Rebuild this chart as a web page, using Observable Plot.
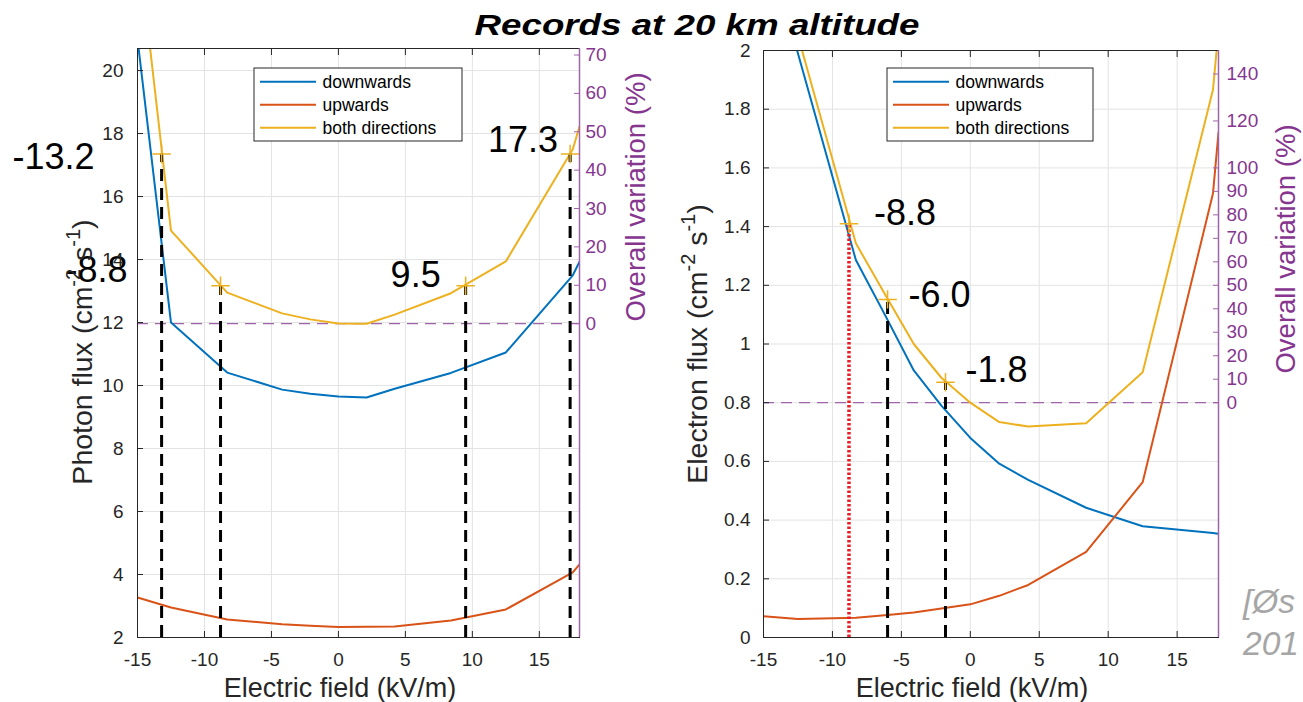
<!DOCTYPE html>
<html><head><meta charset="utf-8">
<script src="https://cdn.jsdelivr.net/npm/d3@7"></script>
<script src="https://cdn.jsdelivr.net/npm/@observablehq/plot@0.6"></script>
<style>
html,body{margin:0;padding:0;background:#fff;}
#wrap{position:relative;width:1303px;height:702px;overflow:hidden;background:#fff;}
#left,#right,#overlay{position:absolute;top:0;}
#left{left:0}#right{left:660px}#overlay{left:0;pointer-events:none}
</style></head><body>
<div id="wrap"><div id="left"></div><div id="right"></div><svg id="overlay" width="1303" height="702"></svg></div>
<script>
// ---------- data ----------
const title = "Records at 20 km altitude";
const seriesNames = ["downwards", "upwards", "both directions"];
const seriesColors = ["#0072BD", "#D95319", "#EDB120"];
const xTicks = [-15, -10, -5, 0, 5, 10, 15];

// left panel: photon flux
const fieldL = [-15, -12.5, -8.3, -4.2, -2.1, 0, 2.1, 4.2, 8.4, 12.5, 17.5, 18];
const downL  = [21.0, 12.0, 10.41, 9.87, 9.74, 9.65, 9.62, 9.9, 10.40, 11.05, 13.5, 13.93];
const upL    = [3.27, 2.95, 2.57, 2.42, 2.37, 2.33, 2.34, 2.35, 2.54, 2.89, 4.07, 4.32];
const bothL  = [24.2, 14.92, 12.95, 12.29, 12.1, 11.97, 11.96, 12.25, 12.93, 13.94, 17.5, 18.22];
const yTicksL = [2, 4, 6, 8, 10, 12, 14, 16, 18, 20];
const pctTicksL = [0, 10, 20, 30, 40, 50, 60, 70];
const markFieldL = [-13.2, -8.8, 9.5, 17.3];
const markFluxL  = [17.35, 13.17, 13.17, 17.35];

// right panel: electron flux
const fieldR = [-15, -12.5, -8.3, -6.2, -4.1, -2.1, 0, 2.1, 4.2, 8.4, 12.5, 17.6, 18];
const downR  = [2.4, 1.99, 1.286, 1.10, 0.91, 0.79, 0.68, 0.592, 0.537, 0.442, 0.379, 0.356, 0.353];
const upR    = [0.072, 0.063, 0.067, 0.076, 0.085, 0.099, 0.113, 0.142, 0.179, 0.292, 0.529, 1.513, 1.72];
const bothR  = [2.47, 2.05, 1.343, 1.17, 1.0, 0.885, 0.80, 0.734, 0.719, 0.730, 0.904, 1.866, 2.07];
const yTicksR = [0, 0.2, 0.4, 0.6, 0.8, 1, 1.2, 1.4, 1.6, 1.8, 2];
const pctTicksR = [0, 10, 20, 30, 40, 50, 60, 70, 80, 90, 100, 120, 140];
const markFieldR = [-8.8, -6.0, -1.8];
const markFluxR  = [1.41, 1.152, 0.87];

// ---------- drawing ----------
const FONT = "'Liberation Sans', Arial, Helvetica, sans-serif";
const PURPLE = "#86368f";
const PURPLE_LINE = "#a064aa";
const AXIS = "#262626";
const GRID = "#e3e3e3";
const TICKFS = 19;

function panel(cfg) {
  const rows = cfg.field.map((f, i) => ({field: f, down: cfg.down[i], up: cfg.up[i], both: cfg.both[i]}));
  const [y0, y1] = cfg.yDomain, [p0, p1] = cfg.pctDomain;
  const toFlux = p => y0 + (p - p0) / (p1 - p0) * (y1 - y0);
  const toPct = f => p0 + (f - y0) / (y1 - y0) * (p1 - p0);
  const marks = cfg.markField.map((x, i) => ({x, y: cfg.markFlux[i], label: x.toFixed(1), i}));
  const dashed = marks.filter(d => !(cfg.redFirst && d.i === 0));
  const red = cfg.redFirst ? marks.filter(d => d.i === 0) : [];
  const keys = ["down", "up", "both"];
  return Plot.plot({
    width: cfg.width, height: 702,
    marginTop: cfg.mt, marginBottom: 65, marginLeft: cfg.ml, marginRight: cfg.mr,
    x: {domain: cfg.xDomain}, y: {domain: cfg.yDomain},
    style: {fontFamily: FONT, fontSize: TICKFS + "px", color: AXIS, background: "transparent", overflow: "visible"},
    marks: [
      Plot.gridX(xTicks, {stroke: GRID, strokeOpacity: 1}),
      Plot.gridY(cfg.yTicks, {stroke: GRID, strokeOpacity: 1}),
      Plot.ruleY([toFlux(0)], {stroke: PURPLE_LINE, strokeWidth: 1.3, strokeDasharray: "11,7"}),
      ...keys.map((k, i) => Plot.line(rows, {x: "field", y: k, stroke: seriesColors[i], strokeWidth: 2, clip: true})),
      Plot.ruleX(dashed, {x: "x", y1: () => y0, y2: "y", stroke: "black", strokeWidth: 3, strokeDasharray: "12,7"}),
      Plot.ruleX(red, {x: "x", y1: () => y0, y2: "y", stroke: "#ec1c24", strokeWidth: 3.5, strokeDasharray: "2.5,2"}),
      Plot.dot(marks, {x: "x", y: "y", symbol: "plus", r: 6, stroke: seriesColors[2], strokeWidth: 1.5}),
      ...cfg.annot.map((s, i) => Plot.text([marks[i]], {x: "x", y: "y", text: "label", dx: s[0], dy: s[1], textAnchor: s[2], fontSize: 36, fill: "black", fontFamily: FONT})),
      Plot.frame({stroke: AXIS, strokeWidth: 1}),
      Plot.ruleX([cfg.xDomain[1]], {stroke: PURPLE_LINE, strokeWidth: 1.5}),
      Plot.axisX(xTicks, {anchor: "bottom", tickSize: -6, tickPadding: 21, tickFormat: d => String(d), label: null, fontSize: TICKFS}),
      Plot.axisX(xTicks, {anchor: "top", tickSize: -6, tickFormat: () => "", label: null}),
      Plot.axisY(cfg.yTicks, {anchor: "left", tickSize: -6, tickPadding: cfg.ypad, tickFormat: d => String(+d.toFixed(1)), label: null, fontSize: TICKFS}),
      Plot.axisY(cfg.pctTicks.map(toFlux), {anchor: "right", tickSize: -6, tickPadding: cfg.ppad, tickFormat: f => String(Math.round(toPct(f))), label: null, stroke: PURPLE_LINE, fill: PURPLE, fontSize: TICKFS})
    ]
  });
}

document.getElementById("left").appendChild(panel({
  field: fieldL, down: downL, up: upL, both: bothL,
  xDomain: [-15, 18], yDomain: [2, 20.7], yTicks: yTicksL,
  pctDomain: [-81.8, 71.7], pctTicks: pctTicksL,
  markField: markFieldL, markFlux: markFluxL, redFirst: false,
  annot: [[-67, 3, "end"], [-93, -15, "end"], [-25, -10, "end"], [-12, -14, "end"]],
  width: 660, mt: 48, ml: 137, mr: 81, ypad: 20, ppad: 12
}));
document.getElementById("right").appendChild(panel({
  field: fieldR, down: downR, up: upR, both: bothR,
  xDomain: [-15, 18], yDomain: [0, 2], yTicks: yTicksR,
  pctDomain: [-100, 150], pctTicks: pctTicksR,
  markField: markFieldR, markFlux: markFluxR, redFirst: true,
  annot: [[25, -10, "start"], [21, -4, "start"], [20, -12, "start"]],
  width: 643, mt: 50, ml: 103, mr: 85, ypad: 19, ppad: 14
}));

// ---------- overlay text: title, axis labels, legends ----------
const ov = d3.select("#overlay").style("font-family", FONT);
ov.append("text").attr("x", 697).attr("y", 35).attr("text-anchor", "middle")
  .attr("font-size", 30).attr("font-weight", "bold").attr("font-style", "italic")
  .attr("textLength", 445).attr("lengthAdjust", "spacingAndGlyphs").attr("fill", "black").text(title);

function fluxLabel(x, y, name) {
  const t = ov.append("text").attr("transform", `translate(${x},${y}) rotate(-90)`)
    .attr("text-anchor", "middle").attr("font-size", 28.5).attr("fill", AXIS);
  t.append("tspan").text(name + " (cm");
  t.append("tspan").attr("dy", -12).attr("font-size", 20).text("-2");
  t.append("tspan").attr("dy", 12).text(" s");
  t.append("tspan").attr("dy", -12).attr("font-size", 20).text("-1");
  t.append("tspan").attr("dy", 12).text(")");
}
fluxLabel(92, 352, "Photon flux");
fluxLabel(707, 344, "Electron flux");

[[645, 197], [1295, 249]].forEach(([x, y]) =>
  ov.append("text").attr("transform", `translate(${x},${y}) rotate(-90)`).attr("text-anchor", "middle")
    .attr("font-size", 27.5).attr("fill", PURPLE).text("Overall variation (%)"));

[340, 972].forEach(x =>
  ov.append("text").attr("x", x).attr("y", 697).attr("text-anchor", "middle")
    .attr("font-size", 27).attr("fill", AXIS).text("Electric field (kV/m)"));

function legend(x0, y0, w) {
  const g = ov.append("g");
  g.append("rect").attr("x", x0).attr("y", y0).attr("width", w).attr("height", 73)
    .attr("fill", "white").attr("stroke", AXIS).attr("stroke-width", 1);
  seriesNames.forEach((name, i) => {
    const yy = y0 + 13.7 + i * 23;
    g.append("line").attr("x1", x0 + 6).attr("x2", x0 + 62).attr("y1", yy).attr("y2", yy)
      .attr("stroke", seriesColors[i]).attr("stroke-width", 2);
    g.append("text").attr("x", x0 + 68.5).attr("y", yy + 6).attr("font-size", 17.5).attr("fill", "black").text(name);
  });
}
legend(254, 68, 208);
legend(887, 68, 206);

ov.append("text").attr("x", 1243).attr("y", 613).attr("font-size", 33.5).attr("font-style", "italic").attr("fill", "#a6a6a6").text("[Øs");
ov.append("text").attr("x", 1243).attr("y", 655).attr("font-size", 33.5).attr("font-style", "italic").attr("fill", "#a6a6a6").text("201");
</script>
</body></html>
